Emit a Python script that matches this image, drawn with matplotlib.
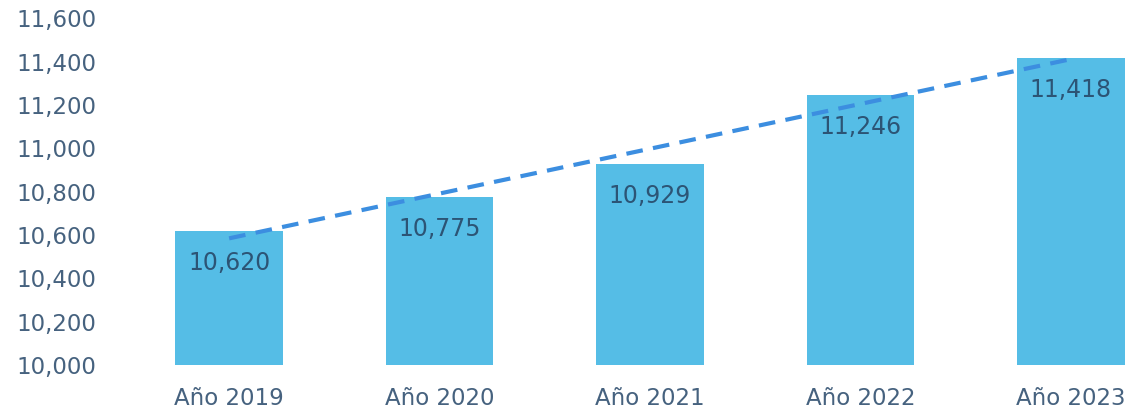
import matplotlib.pyplot as plt
import numpy as np

# datos
years = ["Año 2019", "Año 2020", "Año 2021", "Año 2022", "Año 2023"]
values = [10620, 10775, 10929, 11246, 11418]
yticks = [10000, 10200, 10400, 10600, 10800, 11000, 11200, 11400, 11600]

bar_color = "#55bde6"
trend_color = "#3c8ee0"
tick_color = "#46627f"
label_color = "#2c5475"

fig = plt.figure(figsize=(11.36, 4.09), dpi=100)
ax = fig.add_axes([0.097, 0.1076, 0.903, 0.848])

x = np.arange(len(years))
ax.bar(x, values, width=0.51, color=bar_color, zorder=2)

# linea de tendencia lineal
coef = np.polyfit(x, values, 1)
ax.plot(x, np.polyval(coef, x), linestyle=(0, (4, 2.5)), color=trend_color,
        linewidth=3, zorder=3)

for xi, v in zip(x, values):
    ax.annotate(f"{v:,}", (xi, v), xytext=(0, -23), textcoords="offset points",
                ha="center", va="center", fontsize=17, color=label_color, zorder=4)

ax.set_xlim(-0.565, 4.309)
ax.set_ylim(10000, 11600)
ax.set_yticks(yticks)
ax.set_yticklabels([f"{t:,}" for t in yticks])
ax.set_xticks(x)
ax.set_xticklabels(years)
ax.tick_params(axis="both", length=0, labelsize=16.5, colors=tick_color)
ax.tick_params(axis="y", pad=10)
ax.tick_params(axis="x", pad=16)
for s in ax.spines.values():
    s.set_visible(False)

plt.savefig("out.png", dpi=100)
